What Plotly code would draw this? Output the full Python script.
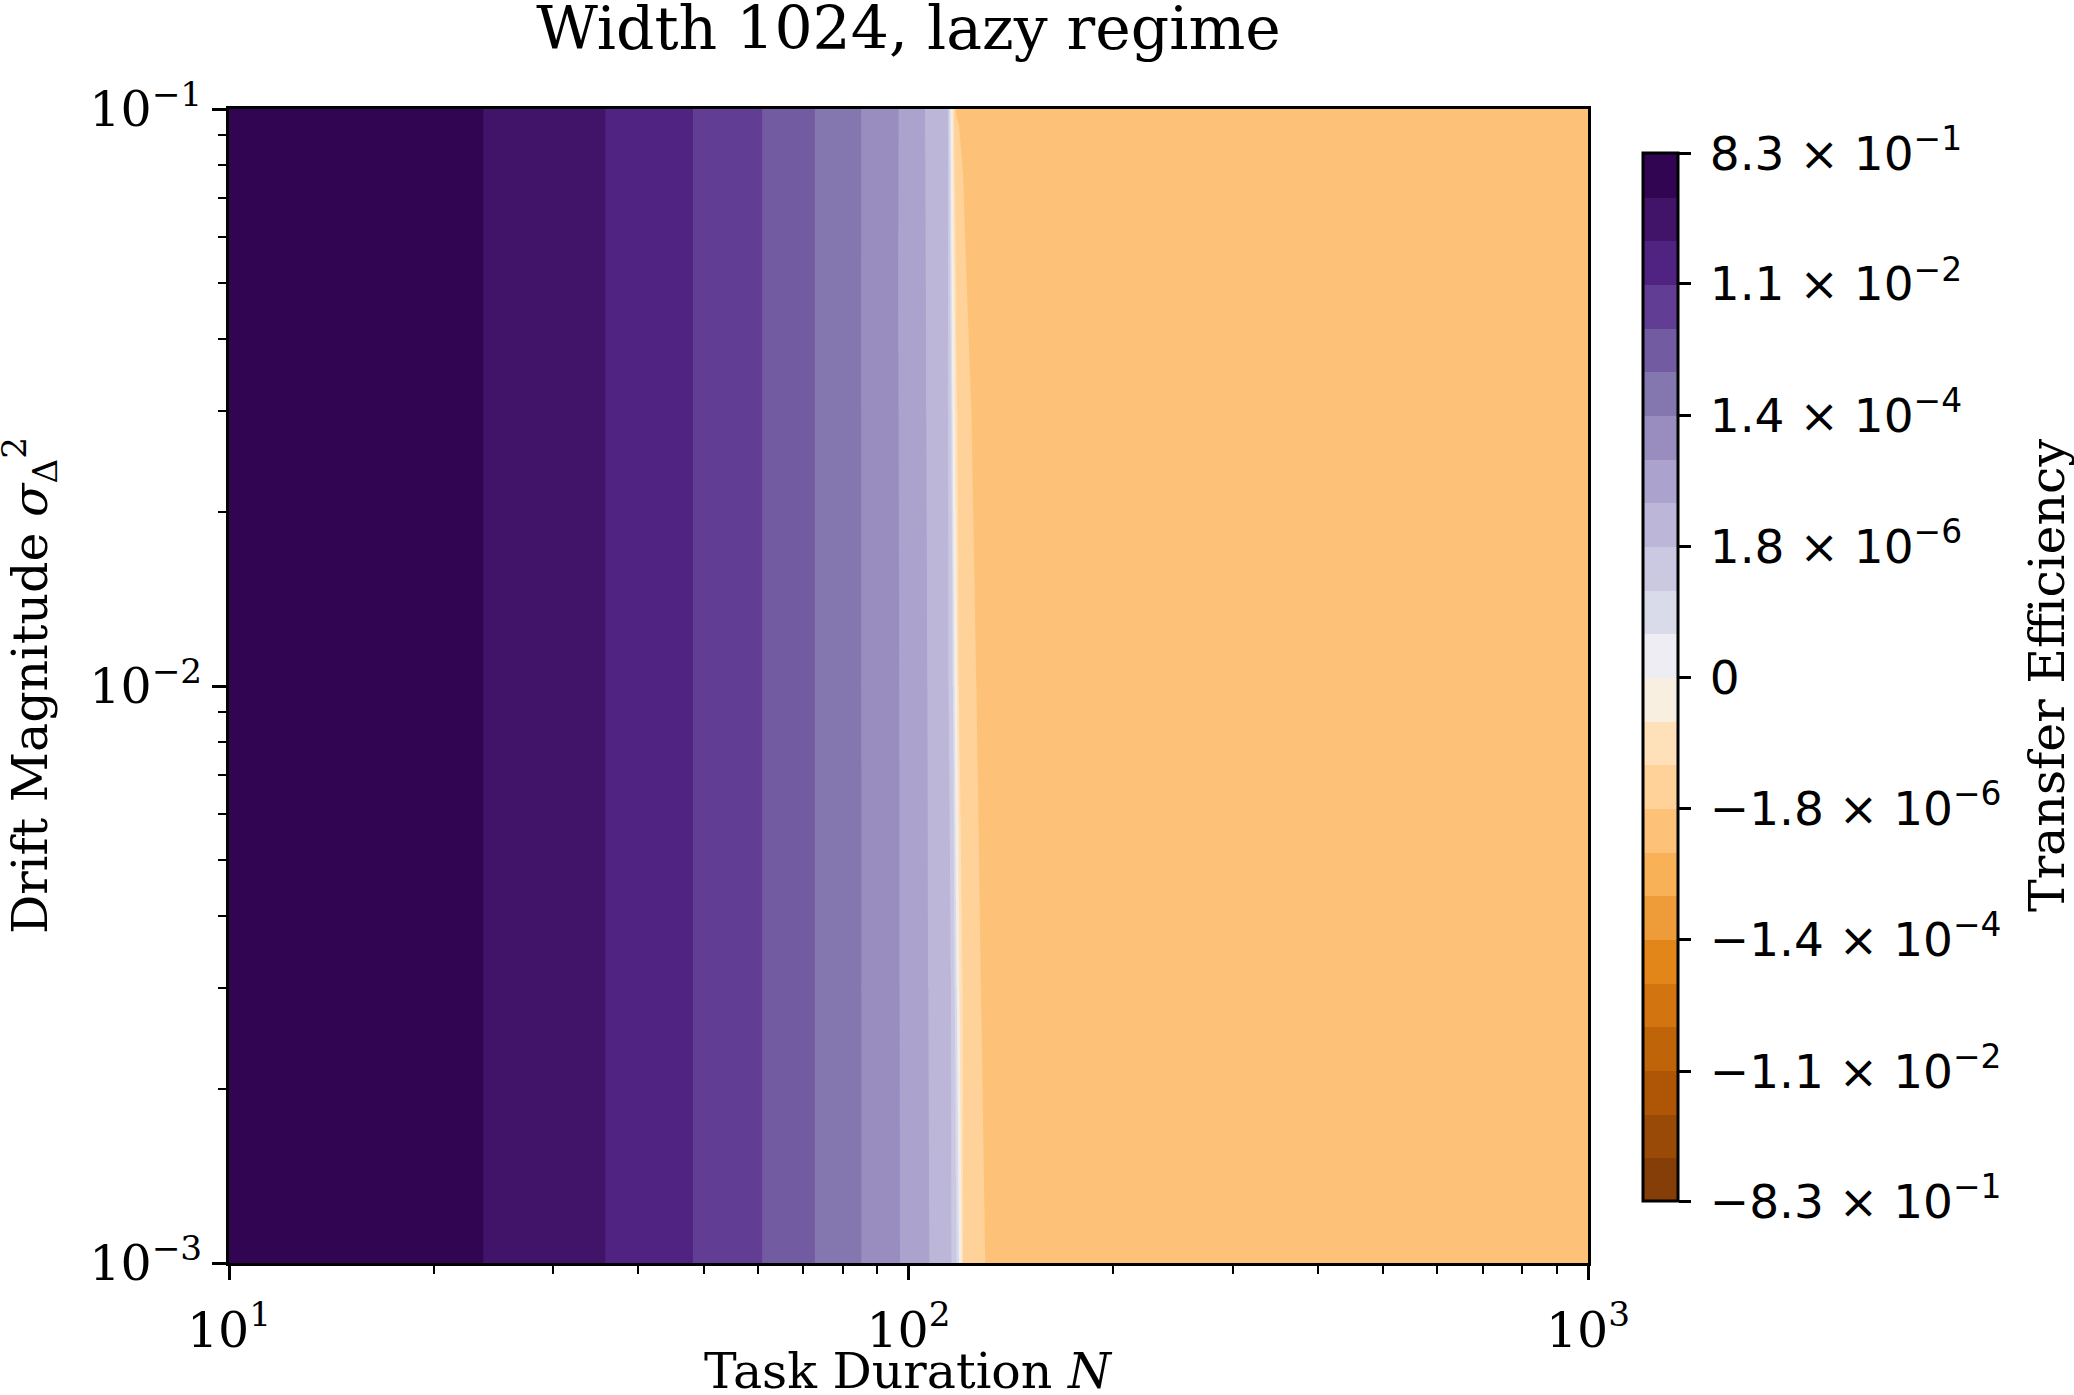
import math
import plotly.graph_objects as go

# ---------------- data ----------------
task_duration = [10, 23.5, 35.6, 48, 60.7, 72.6, 85, 96.5, 106, 114.3, 115.5, 116.5,
                 117.5, 118.7, 120.3, 122, 124, 126, 128, 130, 140, 200, 400, 1000]
drift_magnitude = [0.001, 0.003, 0.01, 0.03, 0.05, 0.1]

te_drift_0001 = [0.82, 0.2, 0.047, 0.011, 0.0026, 6.1e-4, 1.43e-4, 3.6e-5, 9.7e-6, 2.4e-6,
                 1.95e-6, 1.2e-6, 5.7e-7, 1.05e-7, -4.3e-7, -5.5e-7, -7.6e-7, -1.0e-6,
                 -1.4e-6, -1.9e-6, -3.7e-6, -3.9e-6, -4.1e-6, -4.2e-6]
te_drift_0003 = [0.82, 0.2, 0.047, 0.011, 0.0026, 6.1e-4, 1.43e-4, 3.55e-5, 9.1e-6, 2.2e-6,
                 1.85e-6, 7.6e-7, 2.2e-7, -8.9e-8, -5.0e-7, -6.7e-7, -9.5e-7, -1.35e-6,
                 -1.85e-6, -2.1e-6, -3.7e-6, -3.9e-6, -4.1e-6, -4.2e-6]
te_drift_001 = [0.82, 0.2, 0.047, 0.011, 0.0026, 6.1e-4, 1.43e-4, 3.5e-5, 8.6e-6, 2.1e-6,
                1.1e-6, 3.0e-7, -3e-8, -4.5e-7, -6.1e-7, -8.5e-7, -1.25e-6, -1.85e-6,
                -2.1e-6, -2.4e-6, -3.7e-6, -3.9e-6, -4.1e-6, -4.2e-6]
te_drift_003 = [0.82, 0.2, 0.047, 0.011, 0.0026, 6.1e-4, 1.43e-4, 3.4e-5, 8.0e-6, 1.95e-6,
                5.1e-7, 1.6e-8, -3.5e-7, -5.5e-7, -7.9e-7, -1.15e-6, -1.9e-6, -2.1e-6,
                -2.4e-6, -2.8e-6, -3.7e-6, -3.9e-6, -4.1e-6, -4.2e-6]
te_drift_005 = [0.82, 0.2, 0.047, 0.011, 0.0026, 6.1e-4, 1.43e-4, 3.3e-5, 7.8e-6, 1.9e-6,
                2.3e-7, -7e-8, -4.8e-7, -7.3e-7, -1.3e-6, -1.9e-6, -2.2e-6, -2.5e-6,
                -2.9e-6, -3.4e-6, -3.7e-6, -3.9e-6, -4.1e-6, -4.2e-6]
te_drift_01 = [0.82, 0.2, 0.047, 0.011, 0.0026, 6.1e-4, 1.43e-4, 3.4e-5, 7.4e-6, 1.9e-6,
               5e-8, -3.2e-7, -1.9e-6, -2.0e-6, -2.2e-6, -2.5e-6, -2.9e-6, -3.4e-6,
               -3.7e-6, -3.7e-6, -3.8e-6, -3.9e-6, -4.1e-6, -4.2e-6]
transfer_efficiency = [te_drift_0001, te_drift_0003, te_drift_001,
                       te_drift_003, te_drift_005, te_drift_01]

cbar_tick_values = [-0.83, -1.1e-2, -1.4e-4, -1.8e-6, 0, 1.8e-6, 1.4e-4, 1.1e-2, 0.83]
cbar_tick_labels = ["\u22128.3 \u00d7 10<sup>\u22121</sup>", "\u22121.1 \u00d7 10<sup>\u22122</sup>",
                    "\u22121.4 \u00d7 10<sup>\u22124</sup>", "\u22121.8 \u00d7 10<sup>\u22126</sup>",
                    "0",
                    "1.8 \u00d7 10<sup>\u22126</sup>", "1.4 \u00d7 10<sup>\u22124</sup>",
                    "1.1 \u00d7 10<sup>\u22122</sup>", "8.3 \u00d7 10<sup>\u22121</sup>"]
x_tick_values = [10, 100, 1000]
x_tick_labels = ["10<sup>1</sup>", "10<sup>2</sup>", "10<sup>3</sup>"]
y_tick_values = [1e-3, 1e-2, 1e-1]
y_tick_labels = ["10<sup>\u22123</sup>", "10<sup>\u22122</sup>", "10<sup>\u22121</sup>"]
x_minor_ticks = [20, 30, 40, 50, 60, 70, 80, 90, 200, 300, 400, 500, 600, 700, 800, 900]
y_minor_ticks = [0.002, 0.003, 0.004, 0.005, 0.006, 0.007, 0.008, 0.009,
                 0.02, 0.03, 0.04, 0.05, 0.06, 0.07, 0.08, 0.09]

# ---------------- colour norm (symmetric log levels) ----------------
LIN_THRESH = 1e-7
LEVEL_MAX = 0.83
N_HALF = 12
STEP = (math.log10(LEVEL_MAX) - math.log10(LIN_THRESH)) / (N_HALF - 1)


def to_level(v):
    a = abs(v)
    if a < LIN_THRESH:
        return v / LIN_THRESH
    s = 1 if v > 0 else -1
    return s * (1 + math.log10(a / LIN_THRESH) / STEP)


z_level = [[to_level(v) for v in row] for row in transfer_efficiency]

# contour level boundaries (in data units) and their band colours
pos_levels = [10 ** (math.log10(LIN_THRESH) + i * STEP) for i in range(N_HALF)]
boundaries = [-v for v in reversed(pos_levels)] + [0.0] + pos_levels

LINSCALE_ADJ = 1.0 / (1.0 - 0.1)


def symlog(x):
    a = abs(x)
    if a <= LIN_THRESH:
        return x / LIN_THRESH * LINSCALE_ADJ
    return math.copysign(LINSCALE_ADJ + math.log10(a / LIN_THRESH), x)


S_MIN, S_MAX = symlog(-LEVEL_MAX), symlog(LEVEL_MAX)

PUOR = [(127, 59, 8), (179, 88, 6), (224, 130, 20), (253, 184, 99), (254, 224, 182),
        (247, 247, 247), (216, 218, 235), (178, 171, 210), (128, 115, 172),
        (84, 39, 136), (45, 0, 75)]


def puor(s):
    idx = min(max(int(s * 256), 0), 255)
    x = idx / 255 * 10
    i = min(int(x), 9)
    f = x - i
    c = [PUOR[i][j] + (PUOR[i + 1][j] - PUOR[i][j]) * f for j in range(3)]
    return "rgb(%d,%d,%d)" % tuple(int(round(v)) for v in c)


NB = 2 * N_HALF
band_colors = []
for k in range(NB):
    mid = 0.5 * (boundaries[k] + boundaries[k + 1])
    band_colors.append(puor((symlog(mid) - S_MIN) / (S_MAX - S_MIN)))

contour_scale = [[0, band_colors[0]]]
for k, c in enumerate(band_colors):
    contour_scale.append([(k + 1) / (NB + 1), c])
contour_scale.append([1, band_colors[-1]])

step_scale = []
for k, c in enumerate(band_colors):
    step_scale.append([k / NB, c])
    step_scale.append([(k + 1) / NB, c])

# ---------------- layout geometry ----------------
W, H = 2074, 1395
L, R, T, B = 229, 1588, 109, 1263
PW, PH = R - L, B - T

SERIF = "DejaVu Serif"
SANS = "DejaVu Sans"
FS = 49

fig = go.Figure()
fig.add_trace(go.Contour(
    x=task_duration, y=drift_magnitude, z=z_level,
    autocontour=False,
    contours=dict(start=-N_HALF, end=N_HALF, size=1, coloring="fill", showlines=False),
    colorscale=contour_scale, showscale=False,
    line=dict(width=0, smoothing=0), hoverinfo="skip",
))

fig.add_trace(go.Scatter(
    x=[None], y=[None], mode="markers", showlegend=False, hoverinfo="skip",
    marker=dict(
        color=[0], cmin=-N_HALF, cmax=N_HALF, colorscale=step_scale, showscale=True,
        colorbar=dict(
            tickvals=[to_level(v) for v in cbar_tick_values],
            ticktext=["\u2009" + t for t in cbar_tick_labels],
            ticks="outside", ticklen=12, tickwidth=2.5, tickcolor="black",
            outlinecolor="black", outlinewidth=3,
            thickness=35, thicknessmode="pixels",
            len=1048, lenmode="pixels",
            x=(1643 - L) / PW, xanchor="left", xpad=0,
            y=(B - 677.5) / PH, yanchor="middle", ypad=0,
            tickfont=dict(family=SANS, size=47, color="black"),
        ),
    ),
))

axis_common = dict(
    ticks="outside", ticklen=14, tickwidth=2.5, tickcolor="black",
    showline=True, linewidth=3, linecolor="black", mirror=True,
    showgrid=False, zeroline=False,
    tickfont=dict(family=SERIF, size=FS, color="black"),
)

fig.update_xaxes(type="log", range=[1, 3], tickmode="array",
                 tickvals=x_tick_values, ticktext=x_tick_labels,
                 ticklabelstandoff=8,
                 minor=dict(ticks="outside", ticklen=8, tickwidth=2, tickcolor="black",
                            tickvals=x_minor_ticks, showgrid=False),
                 **axis_common)
fig.update_yaxes(type="log", range=[-3, -1], tickmode="array",
                 tickvals=y_tick_values, ticktext=y_tick_labels,
                 minor=dict(ticks="outside", ticklen=8, tickwidth=2, tickcolor="black",
                            tickvals=y_minor_ticks, showgrid=False),
                 **axis_common)

fig.update_layout(
    width=W, height=H,
    margin=dict(l=L, r=W - R, t=T, b=H - B, pad=0),
    paper_bgcolor="white", plot_bgcolor="white",
    title=dict(text="Width 1024, lazy regime", x=(L + PW / 2) / W, xanchor="center",
               y=1 - 28 / H, yanchor="middle", yref="container",
               font=dict(family=SERIF, size=60, color="black")),
    showlegend=False,
    annotations=[
        dict(text="Task Duration <i>N</i>", xref="paper", yref="paper",
             x=0.5, y=-(1371 - B) / PH, xanchor="center", yanchor="middle",
             showarrow=False, font=dict(family=SERIF, size=FS, color="black")),
        dict(text="Drift Magnitude <i>\u03c3</i><sub>\u0394</sub><sup>2</sup>",
             xref="paper", yref="paper", x=-(L - 29) / PW, y=0.5,
             xanchor="center", yanchor="middle", textangle=-90,
             showarrow=False, font=dict(family=SERIF, size=FS, color="black")),
        dict(text="Transfer Efficiency", xref="paper", yref="paper",
             x=(2047 - L) / PW, y=(B - 675) / PH, xanchor="center", yanchor="middle",
             textangle=-90, showarrow=False,
             font=dict(family=SERIF, size=FS, color="black")),
    ],
)

fig.write_html("out.html")
